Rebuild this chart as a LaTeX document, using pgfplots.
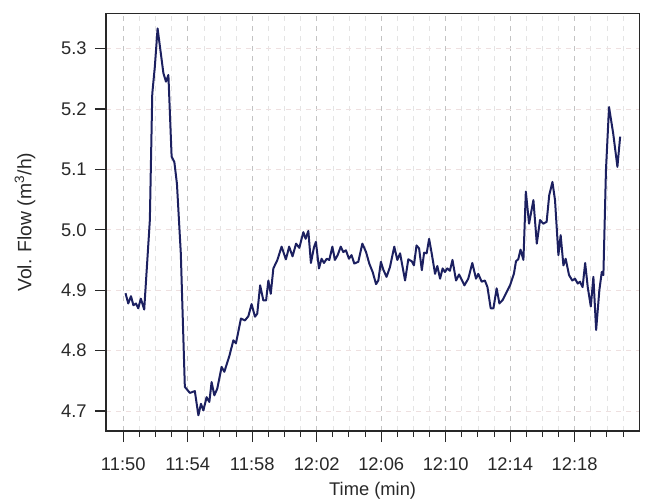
\documentclass[border=0pt]{standalone}
\usepackage{fontspec}
\setmainfont{Liberation Sans}
\usepackage{pgfplots}
\pgfplotsset{compat=1.18}

\definecolor{flowline}{RGB}{28,32,96}
\definecolor{majgrid}{RGB}{195,195,195}
\definecolor{mingrid}{RGB}{228,228,228}
\definecolor{hgrid}{RGB}{238,224,224}
\definecolor{txt}{RGB}{40,40,40}

% minutes after 11:50, volumetric flow in m^3/h
\pgfplotstableread{
t     v
0.14  4.895
0.31  4.878
0.48  4.890
0.63  4.875
0.79  4.878
0.93  4.870
1.09  4.886
1.30  4.868
1.65  5.016
1.80  5.225
1.96  5.270
2.13  5.333
2.49  5.259
2.65  5.245
2.80  5.256
3.00  5.121
3.17  5.112
3.33  5.076
3.57  4.961
3.82  4.740
4.13  4.730
4.44  4.733
4.66  4.693
4.82  4.712
4.97  4.701
5.17  4.723
5.34  4.715
5.48  4.748
5.65  4.726
5.83  4.737
6.10  4.773
6.27  4.765
6.58  4.791
6.83  4.817
6.99  4.812
7.30  4.853
7.55  4.850
7.76  4.857
7.96  4.877
8.17  4.856
8.31  4.861
8.49  4.908
8.69  4.883
8.86  4.883
9.00  4.916
9.15  4.894
9.31  4.936
9.56  4.950
9.82  4.972
10.09 4.951
10.29 4.972
10.50 4.956
10.72 4.977
10.92 4.970
11.17 4.996
11.31 4.985
11.48 4.998
11.64 4.945
11.83 4.971
11.95 4.980
12.14 4.936
12.30 4.952
12.45 4.945
12.62 4.952
12.78 4.950
12.97 4.972
13.13 4.950
13.30 4.958
13.49 4.972
13.65 4.963
13.81 4.966
14.00 4.952
14.16 4.958
14.33 4.944
14.58 4.947
14.83 4.977
15.06 4.963
15.26 4.944
15.47 4.930
15.68 4.910
15.82 4.916
15.98 4.947
16.13 4.934
16.33 4.922
16.54 4.938
16.81 4.972
17.00 4.950
17.17 4.961
17.48 4.916
17.68 4.951
17.89 4.948
18.03 4.941
18.19 4.974
18.35 4.969
18.52 4.933
18.66 4.962
18.82 4.961
18.97 4.985
19.13 4.961
19.34 4.927
19.48 4.940
19.65 4.919
19.81 4.936
19.95 4.930
20.10 4.936
20.26 4.932
20.42 4.950
20.64 4.916
20.83 4.926
21.16 4.908
21.40 4.919
21.65 4.945
21.88 4.919
22.02 4.927
22.23 4.914
22.43 4.916
22.59 4.905
22.79 4.870
22.96 4.870
23.16 4.903
23.33 4.878
23.54 4.884
23.78 4.897
23.99 4.908
24.23 4.927
24.36 4.948
24.50 4.951
24.64 4.967
24.82 4.950
24.97 5.063
25.17 5.010
25.44 5.049
25.65 4.977
25.85 5.016
26.05 5.010
26.26 5.013
26.42 5.057
26.62 5.079
26.78 5.049
26.99 4.958
27.13 4.991
27.30 4.941
27.44 4.952
27.65 4.925
27.85 4.916
28.02 4.919
28.19 4.911
28.33 4.914
28.49 4.905
28.65 4.945
28.81 4.905
29.00 4.873
29.16 4.922
29.33 4.834
29.53 4.900
29.68 4.930
29.78 4.925
29.94 5.099
30.13 5.203
30.39 5.159
30.65 5.104
30.82 5.154
}\flowdata

\begin{document}
\begin{tikzpicture}
\begin{axis}[
    name=ax,
    scale only axis,
    width=320pt,
    height=250.6pt,
    xmin=-1.07, xmax=32.01,
    ymin=4.667, ymax=5.358,
    axis line style={txt, line width=0.8pt},
    tick align=outside,
    xtick pos=bottom,
    ytick pos=left,
    xtick={0,4,...,28},
    xticklabels={11:50,11:54,11:58,12:02,12:06,12:10,12:14,12:18},
    minor xtick={1,2,3,5,6,7,9,10,11,13,14,15,17,18,19,21,22,23,25,26,27,29,30,31},
    ytick={4.7,4.8,...,5.31},
    major tick length=6.6pt,
    minor tick length=3.6pt,
    every tick/.style={txt, line width=0.8pt},
    every minor tick/.style={txt, line width=0.6pt},
    grid=both,
    major x grid style={majgrid, dashed, line width=0.4pt},
    minor x grid style={mingrid, dashed, line width=0.4pt},
    major y grid style={hgrid, dashed, line width=0.4pt},
    tick label style={font=\fontsize{11}{13}\selectfont, text=txt},
    xticklabel style={yshift=-6pt},
    yticklabel style={xshift=-1.5pt, /pgf/number format/.cd, fixed, fixed zerofill, precision=1},
    /pgf/number format/assume math mode=true,
    label style={font=\fontsize{11}{13}\selectfont, text=txt},
    xlabel={Time (min)},
    ylabel={Vol. Flow (m\textsuperscript{3}/h)},
    xlabel style={at={(axis description cs:0.5,-0.1437)}, anchor=center},
    ylabel style={at={(axis description cs:-0.152,0.5)}, anchor=center,
        font=\fontsize{11.6}{13}\selectfont},
]
\addplot[flowline, line width=1.2pt, line join=round] table[x=t, y=v] {\flowdata};
\end{axis}
\pgfresetboundingbox
\path[use as bounding box] ([shift={(-63.6pt,-40.8pt)}]ax.south west) rectangle ([shift={(3.4pt,8pt)}]ax.north east);
\end{tikzpicture}
\end{document}
